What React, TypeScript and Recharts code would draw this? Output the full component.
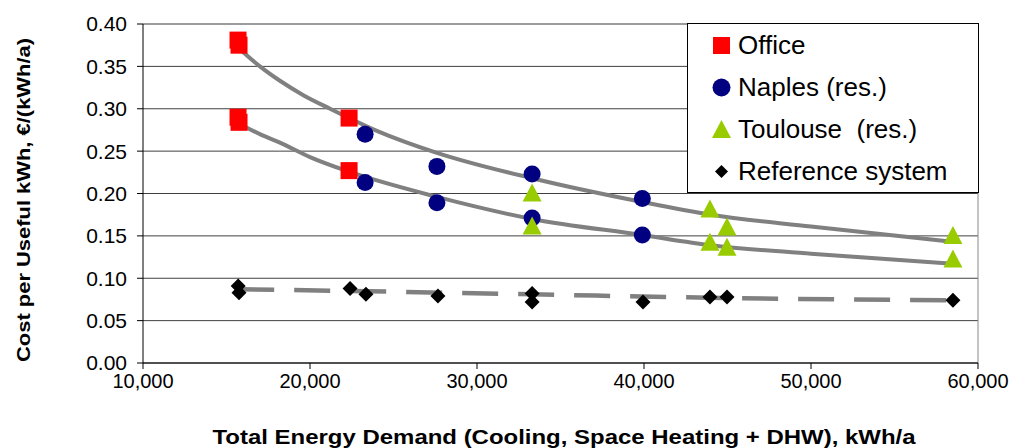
import { CartesianGrid, ComposedChart, Label, Line, ReferenceLine, Scatter, XAxis, YAxis } from 'recharts'

const officeX = [15690, 15750, 15690, 15750, 22340, 22340]
const officeY = [0.381, 0.375, 0.29, 0.284, 0.289, 0.227]

const naplesX = [23300, 23300, 27600, 27600, 33300, 33300, 39900, 39900]
const naplesY = [0.27, 0.213, 0.232, 0.189, 0.223, 0.171, 0.194, 0.151]

const toulouseX = [33300, 33300, 43950, 44970, 43950, 44970, 58500, 58500]
const toulouseY = [0.2, 0.161, 0.181, 0.16, 0.142, 0.136, 0.15, 0.122]

const referenceX = [15700, 15750, 22400, 23350, 27660, 33300, 33300, 39940, 43950, 44970, 58500]
const referenceY = [0.091, 0.083, 0.088, 0.081, 0.079, 0.082, 0.072, 0.072, 0.078, 0.078, 0.074]

// trend lines
const upperTrendX = [15700, 17000, 18200, 19600, 21200, 24000, 27600, 33300, 39900, 44000, 50000, 58500]
const upperTrendY = [0.372, 0.35, 0.333, 0.316, 0.3, 0.274, 0.248, 0.218, 0.19, 0.175, 0.161, 0.143]
const lowerTrendX = [15700, 17000, 18200, 20000, 22300, 27600, 33300, 39900, 44000, 50000, 58500]
const lowerTrendY = [0.283, 0.27, 0.26, 0.243, 0.226, 0.196, 0.17, 0.151, 0.139, 0.129, 0.117]
const refTrendX = [15700, 22300, 33300, 44000, 58500]
const refTrendY = [0.087, 0.085, 0.081, 0.077, 0.074]

const xTicks = [10000, 20000, 30000, 40000, 50000, 60000]
const yTicks = [0, 0.05, 0.1, 0.15, 0.2, 0.25, 0.3, 0.35, 0.4]

const zip = (xs: number[], ys: number[]) => xs.map((x, i) => ({ x, y: ys[i] }))

const FONT = '"Liberation Sans", Arial, sans-serif'

const Square = ({ cx, cy }: any) => <rect x={cx - 8.5} y={cy - 8.5} width={17} height={17} fill="#ff0000" />
const Circle = ({ cx, cy }: any) => <circle cx={cx} cy={cy} r={8.5} fill="#000080" />
const Triangle = ({ cx, cy }: any) => (
  <polygon points={`${cx},${cy - 10} ${cx + 9.5},${cy + 8} ${cx - 9.5},${cy + 8}`} fill="#99cc00" />
)
const Diamond = ({ cx, cy }: any) => (
  <polygon points={`${cx},${cy - 7.5} ${cx + 7.5},${cy} ${cx},${cy + 7.5} ${cx - 7.5},${cy}`} fill="#000000" />
)

const legendItems = [
  { label: 'Office', shape: <rect x={2} y={2} width={17} height={17} fill="#ff0000" /> },
  { label: 'Naples (res.)', shape: <circle cx={10.5} cy={10.5} r={9} fill="#000080" /> },
  { label: 'Toulouse\u00a0 (res.)', shape: <polygon points="10.5,1 20,19 1,19" fill="#99cc00" /> },
  { label: 'Reference system', shape: <polygon points="10.5,4 17,10.5 10.5,17 4,10.5" fill="#000" /> },
]

export default function App() {
  return (
    <div style={{ position: 'absolute', left: 0, top: 0, width: 1016, height: 448, background: '#fff' }}>
      <ComposedChart width={1016} height={448} margin={{ top: 24, right: 38, bottom: 55, left: 0 }}>
        <CartesianGrid vertical={false} stroke="#404040" />
        <XAxis
          type="number"
          dataKey="x"
          domain={[10000, 60000]}
          ticks={xTicks}
          height={30}
          allowDataOverflow
          tickFormatter={(v: number) => v.toLocaleString('en-US')}
          tick={{ fill: '#000', fontSize: 20, fontFamily: FONT }}
          tickSize={6}
          tickMargin={5}
          axisLine={{ stroke: '#000' }}
          tickLine={{ stroke: '#000' }}
        >
          <Label
            content={() => (
              <text
                x={564}
                y={444}
                textAnchor="middle"
                fontFamily={FONT}
                fontWeight="bold"
                fontSize={21}
                textLength={703}
                lengthAdjust="spacingAndGlyphs"
                fill="#000"
              >
                Total Energy Demand (Cooling, Space Heating + DHW), kWh/a
              </text>
            )}
          />
        </XAxis>
        <YAxis
          type="number"
          dataKey="y"
          domain={[0, 0.4]}
          ticks={yTicks}
          width={143}
          tickFormatter={(v: number) => v.toFixed(2)}
          tick={{ fill: '#000', fontSize: 21, fontFamily: FONT }}
          tickSize={6}
          tickMargin={10}
          axisLine={{ stroke: '#000' }}
          tickLine={{ stroke: '#000' }}
        >
          <Label
            content={() => (
              <text
                x={30}
                y={200}
                transform="rotate(-90, 30, 200)"
                textAnchor="middle"
                fontFamily={FONT}
                fontWeight="bold"
                fontSize={19}
                textLength={324}
                lengthAdjust="spacingAndGlyphs"
                fill="#000"
              >
                Cost per Useful kWh, €/(kWh/a)
              </text>
            )}
          />
        </YAxis>
        <ReferenceLine y={0.4} stroke="#999" />
        <ReferenceLine x={60000} stroke="#888" />
        <Line
          data={zip(upperTrendX, upperTrendY)}
          dataKey="y"
          type="monotone"
          stroke="#808080"
          strokeWidth={4}
          dot={false}
          isAnimationActive={false}
        />
        <Line
          data={zip(lowerTrendX, lowerTrendY)}
          dataKey="y"
          type="monotone"
          stroke="#808080"
          strokeWidth={4}
          dot={false}
          isAnimationActive={false}
        />
        <Scatter data={zip(officeX, officeY)} dataKey="y" shape={Square} isAnimationActive={false} />
        <Scatter data={zip(naplesX, naplesY)} dataKey="y" shape={Circle} isAnimationActive={false} />
        <Scatter data={zip(toulouseX, toulouseY)} dataKey="y" shape={Triangle} isAnimationActive={false} />
        <Scatter data={zip(referenceX, referenceY)} dataKey="y" shape={Diamond} isAnimationActive={false} />
        <Line
          data={zip(refTrendX, refTrendY)}
          dataKey="y"
          type="monotone"
          stroke="#808080"
          strokeWidth={4.5}
          strokeDasharray="36 20"
          dot={false}
          isAnimationActive={false}
        />
      </ComposedChart>
      <div
        style={{
          position: 'absolute',
          left: 687,
          top: 23,
          width: 290,
          height: 168,
          border: '1px solid #000',
          background: '#fff',
          fontFamily: FONT,
          fontSize: 26,
          color: '#000',
        }}
      >
        {legendItems.map((item, i) => (
          <div
            key={item.label}
            style={{ position: 'absolute', left: 23, top: 8 + i * 42, height: 26, display: 'flex', alignItems: 'center', whiteSpace: 'nowrap' }}
          >
            <svg width={21} height={21} style={{ marginRight: 6 }}>
              {item.shape}
            </svg>
            <span>{item.label}</span>
          </div>
        ))}
      </div>
    </div>
  )
}
